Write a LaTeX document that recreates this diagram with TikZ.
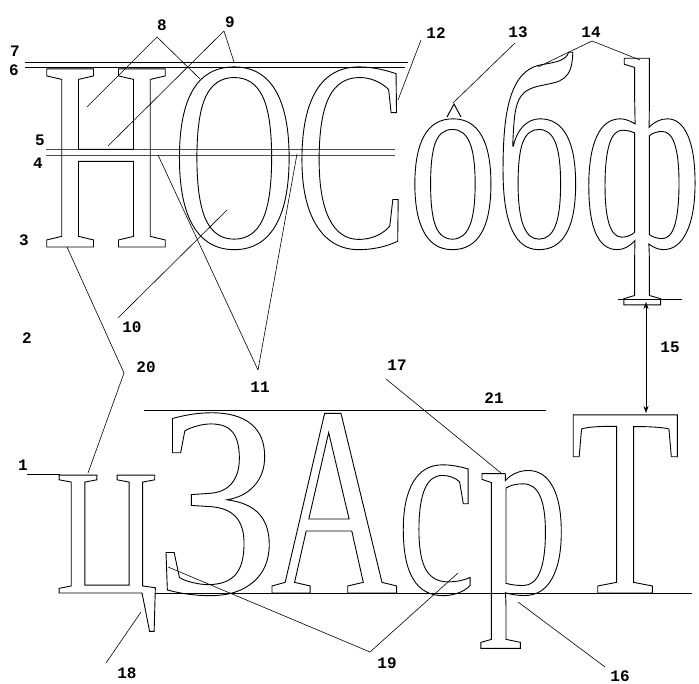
\documentclass[tikz,border=0pt]{standalone}
\usepackage{fontspec}
\usetikzlibrary{arrows.meta}
\newfontfamily\lblfont{Liberation Mono}[BoldFont={Liberation Mono Bold}]
% outlined letter: size, stretch, character
\newcommand\outl[3]{{\fontspec[FakeStretch=#2]{Liberation Serif}\fontsize{#1}{#1}\selectfont\special{pdf:code 1 Tr}#3\special{pdf:code 0 Tr}}}

\begin{document}
\begin{tikzpicture}[x=1pt, y=-1pt,
    lbl/.style={font=\lblfont\bfseries\fontsize{16}{16}\selectfont, inner sep=0},
    glyph/.style={anchor=base west, inner sep=0, outer sep=0, line width=0.9pt},
    guide/.style={line width=0.8pt},
    lead/.style={line width=0.6pt}]
    \useasboundingbox (0,0) rectangle (699,684);
    % guide lines
    \draw[guide] (25,62) -- (408,62);
    \draw[guide] (25,67) -- (405,67);
    \draw[guide, black!70] (46,149) -- (395,149);
    \draw[guide, black!70] (46,155) -- (395,155);
    \draw[guide] (618,299) -- (682,299);
    \draw[guide] (144,410) -- (546,410);
    \draw[guide] (155,593) -- (692,593);
    \draw[guide] (27,474) -- (60,474);
    % top row
    \node[glyph] (gN) at (41.6,247) {\outl{272}{0.656}{Н}};
    \node[glyph] (gO) at (172.4,247) {\outl{272}{0.63}{О}};
    \node[glyph] (gS) at (295,247) {\outl{272}{0.62}{С}};
    \node[glyph] (go) at (408,247) {\outl{272}{0.66}{о}};
    \node[glyph] (gb) at (495,247) {\outl{272}{0.63}{б}};
    \node[glyph] (gf) at (582,247) {\outl{272}{0.68}{ф}};
    % bottom row
    \node[glyph] (gC) at (55,593) {\outl{180}{0.8}{Ц}};
    \node[glyph] (gZ) at (154,593) {\outl{272}{0.93}{З}};
    \node[glyph] (gA) at (270.3,593) {\outl{272}{0.65}{А}};
    \node[glyph] (gc) at (396.5,593) {\outl{272}{0.655}{с}};
    \node[glyph] (gr) at (478,593) {\outl{260}{0.695}{р}};
    \node[glyph] (gT) at (570,593) {\outl{272}{0.664}{Т}};
    % numbers
    \foreach \n/\x/\y in {1/23/465, 2/27/338, 3/24/240, 4/38/163, 5/40/140,
      6/14/70, 7/15/51, 8/162/25, 9/230/22, 10/132/327, 11/260/387,
      12/436/33, 13/518/32, 14/591/32, 15/670/347, 16/620/676, 17/397/365,
      18/127/673, 19/387/663, 20/146/367, 21/494/398}
      \node[lbl] (n\n) at (\x,\y) {\n};
    % leader ends
    \foreach \c/\x/\y in {s8/157/37, e8a/87/107, e8b/200/79,
      s9/224/31, e9a/108/146, e9b/234/62, s10/118/318, e10/227/210,
      v11/258/370, e11a/158/155, e11b/297/154, s12/421/40, e12/398/100,
      s13/515/43, e13/453/103, s14/592/41, e14a/538/67, e14b/640/60,
      s16/605/667, e16/518/602, s17/386/379, e17/501/473,
      s18/106/663, e18/141/612, v19/370/652, e19a/168/567, e19b/458/573,
      v20/124/373, e20a/67/247, e20b/88/473, a15/646/302, b15/646/413}
      \coordinate (\c) at (\x,\y);
    \foreach \s/\t in {s8/e8a, s8/e8b, s9/e9a, s9/e9b, s10/e10, v11/e11a,
      v11/e11b, s12/e12, s13/e13, s14/e14a, s14/e14b, s16/e16, s17/e17,
      s18/e18, v19/e19a, v19/e19b, v20/e20a, v20/e20b}
      \draw[lead] (\s) -- (\t);
    \draw[lead, {Stealth[length=7pt,width=5pt]}-{Stealth[length=7pt,width=5pt]}] (a15) -- (b15);
    % caret mark over the o
    \draw[line width=1pt] (447,117) -- (454,104) -- (461,117);
  \end{tikzpicture}
\end{document}
